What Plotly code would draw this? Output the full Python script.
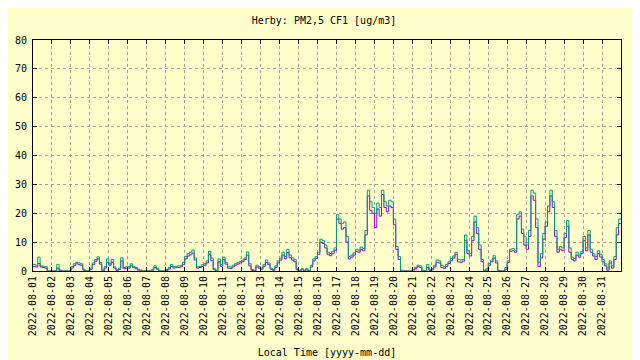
import pandas as pd
import plotly.graph_objects as go

TITLE = "Herby: PM2,5 CF1 [ug/m3]"
X_LABEL = "Local Time [yyyy-mm-dd]"
START = "2022-08-01 00:00"
STEP = "3h"

# PM2.5 CF1 readings, 8 per day (3-hour steps), Aug 1 .. Aug 31
pm25_a = [  # purple series
    1.6, 1.4, 2.6, 1.4, 1.2, 1.0, 0, 0,
    0, 0, 1.0, 0, 0, 0, 0, 0,
    1.0, 1.8, 2.5, 2.2, 2.0, 0.3, 0, 0,
    0.6, 2.2, 3.4, 4.2, 2.4, 0, 1.0, 3.0,
    2.0, 3.0, 1.0, 0.2, 0.6, 3.5, 0.8, 1.0,
    1.0, 1.8, 1.2, 0.8, 0.3, 0, 0, 0,
    0, 0, 0.3, 1.2, 0.6, 0, 0, 0,
    0.2, 0.7, 1.6, 1.0, 1.2, 1.2, 1.4, 2.2,
    4.2, 5.2, 5.6, 6.2, 3.8, 1.0, 1.2, 1.6,
    2.0, 2.8, 5.8, 3.6, 0.4, 0, 3.2, 1.6,
    4.0, 2.4, 1.0, 0.9, 1.4, 2.0, 2.4, 2.8,
    3.2, 4.0, 5.5, 1.8, 0.2, 0, 1.4, 1.0,
    0.6, 1.6, 3.0, 2.2, 0.6, 0.2, 1.2, 2.8,
    3.8, 5.5, 4.2, 6.4, 4.6, 3.8, 3.2, 0.4,
    0, 0.4, 0, 0.4, 0, 1.4, 3.5, 4.4,
    5.8, 10.0, 9.5, 8.0, 5.8, 5.3, 6.0, 7.2,
    18.0, 16.5, 14.5, 15.0, 10.0, 4.2, 4.8, 5.5,
    6.8, 6.5, 7.5, 7.0, 12.5, 26.0, 21.0, 20.0,
    15.0, 21.5, 19.0, 26.5, 22.0, 20.5, 22.5, 22.0,
    16.0, 7.5, 4.0, 0, 0, 0, 0, 0,
    0.3, 0.9, 1.5, 1.2, 0, 0, 1.2, 0.2,
    0.4, 1.4, 3.0, 2.8, 1.2, 0.9, 1.6, 2.6,
    3.6, 4.5, 5.8, 3.2, 3.0, 3.4, 10.5, 6.0,
    5.2, 10.5, 17.0, 13.0, 7.5, 3.2, 0, 0.3,
    2.0, 3.2, 4.5, 2.8, 0, 0, 0, 0.6,
    3.0, 6.8, 7.0, 6.5, 18.0, 19.0, 13.0, 9.0,
    7.5, 12.0, 26.0, 24.5, 15.0, 1.5, 4.5, 11.0,
    15.5, 20.5, 26.0, 22.0, 12.0, 6.5, 7.5, 7.0,
    11.5, 15.5, 6.5, 4.0, 3.5, 5.5, 4.8, 6.0,
    10.5, 7.0, 12.5, 6.5, 5.2, 4.0, 6.0, 4.8,
    3.2, 1.8, 0.3, 2.8, 1.0, 4.0, 12.5, 16.5,
]

pm25_b = [  # green series
    2.3, 2.0, 4.8, 1.8, 1.6, 1.5, 0, 0,
    0, 0, 2.3, 0.4, 0, 0, 0, 0,
    1.5, 2.5, 3.0, 2.8, 2.5, 0.6, 0, 0,
    1.0, 2.8, 4.0, 4.9, 3.0, 0.3, 1.5, 4.2,
    2.5, 4.0, 1.4, 0.5, 1.0, 4.6, 1.2, 1.5,
    1.5, 2.5, 1.6, 1.2, 0.6, 0.3, 0.2, 0,
    0, 0, 0.6, 1.8, 1.0, 0, 0, 0,
    0.5, 1.2, 2.3, 1.5, 1.6, 1.8, 1.9, 3.0,
    5.0, 6.0, 6.5, 7.3, 4.5, 1.5, 1.6, 2.2,
    2.5, 3.5, 6.8, 4.5, 0.8, 0.3, 4.2, 2.2,
    4.8, 3.0, 1.6, 1.4, 2.0, 2.5, 3.0, 3.3,
    3.8, 4.5, 6.6, 2.5, 0.5, 0.3, 2.0, 1.5,
    1.0, 2.2, 3.8, 2.8, 1.0, 0.5, 1.8, 3.5,
    4.5, 6.5, 5.0, 7.5, 5.5, 4.6, 4.0, 0.8,
    0.2, 0.8, 0.3, 0.8, 0.1, 2.0, 4.2, 5.0,
    6.5, 11.0, 10.5, 9.0, 6.5, 6.0, 6.8, 8.0,
    19.5, 18.0, 16.5, 17.0, 12.0, 5.0, 5.5, 6.3,
    7.5, 7.2, 8.3, 7.8, 14.0, 28.0, 24.0, 22.0,
    20.0, 23.5, 22.0, 28.0, 24.0, 22.5, 24.5, 24.0,
    18.0, 8.5, 5.0, 0.3, 0, 0, 0, 0,
    0.6, 1.3, 2.0, 1.8, 0.3, 0, 2.2, 0.5,
    0.8, 2.0, 3.8, 3.5, 2.0, 1.5, 2.3, 3.2,
    4.3, 5.2, 6.5, 4.0, 3.8, 4.0, 12.5, 7.0,
    6.0, 12.0, 19.0, 15.0, 9.0, 4.0, 0.3, 0.8,
    2.6, 3.8, 5.3, 3.5, 0.3, 0, 0, 1.2,
    3.5, 7.5, 7.8, 7.2, 19.5, 20.5, 14.5, 12.0,
    9.0, 14.0, 28.0, 27.0, 18.0, 3.0, 6.0, 13.0,
    17.0, 22.5, 28.0, 24.0, 14.0, 7.5, 8.5, 8.0,
    13.0, 17.5, 8.0, 4.8, 4.3, 6.5, 5.5, 6.7,
    12.0, 8.0, 14.0, 7.5, 6.0, 5.0, 7.0, 5.8,
    4.0, 2.5, 1.0, 3.5, 1.8, 5.0, 15.0, 18.0,
]

day_ticks = pd.date_range("2022-08-01", "2022-08-31", freq="D")
tick_labels = [d.strftime("%Y-%m-%d") for d in day_ticks]

# step-plot time index (one extra point closes the last step)
times = pd.date_range(START, periods=len(pm25_b) + 1, freq=STEP)

BG = "#ffffcc"
FONT = "DejaVu Sans Mono"
PAGE_OFFSET = 8  # default body margin of the HTML page
W, H = 640 - PAGE_OFFSET, 360 - PAGE_OFFSET

fig = go.Figure()
fig.add_trace(go.Scatter(
    x=times, y=pm25_a + [pm25_a[-1]], mode="lines",
    line=dict(color="#9400d3", width=1, shape="hv"), showlegend=False))
fig.add_trace(go.Scatter(
    x=times, y=pm25_b + [pm25_b[-1]], mode="lines",
    line=dict(color="#009e73", width=1, shape="hv"), showlegend=False))

fig.update_layout(
    width=W, height=H,
    paper_bgcolor=BG, plot_bgcolor=BG,
    margin=dict(l=33 - PAGE_OFFSET, r=19, t=40 - PAGE_OFFSET, b=89,
                autoexpand=False),
    font=dict(family=FONT, size=10, color="#000000"),
    title=dict(text=TITLE, x=0.5, xanchor="center",
               y=1 - (20 - PAGE_OFFSET) / H,
               yanchor="middle", yref="container",
               font=dict(family=FONT, size=10)),
    showlegend=False,
)
fig.update_xaxes(
    range=["2022-08-01 00:00", "2022-09-01 00:00"],
    tickmode="array", tickvals=day_ticks, ticktext=tick_labels,
    tickangle=-90, ticks="inside", ticklen=4, tickcolor="#000",
    showline=True, linecolor="#000", linewidth=1, mirror="allticks",
    showgrid=True, gridcolor="#a0a0a0", griddash="3px,3px", gridwidth=1,
    zeroline=False, automargin=False,
    title=dict(text=X_LABEL, standoff=13, font=dict(family=FONT, size=10)),
)
fig.update_yaxes(
    range=[0, 80], dtick=10, tick0=0,
    ticks="inside", ticklen=4, tickcolor="#000", ticklabelstandoff=3,
    showline=True, linecolor="#000", linewidth=1, mirror="allticks",
    showgrid=True, gridcolor="#a0a0a0", griddash="3px,3px", gridwidth=1,
    zeroline=False, automargin=False,
)

fig.write_html("out.html")
